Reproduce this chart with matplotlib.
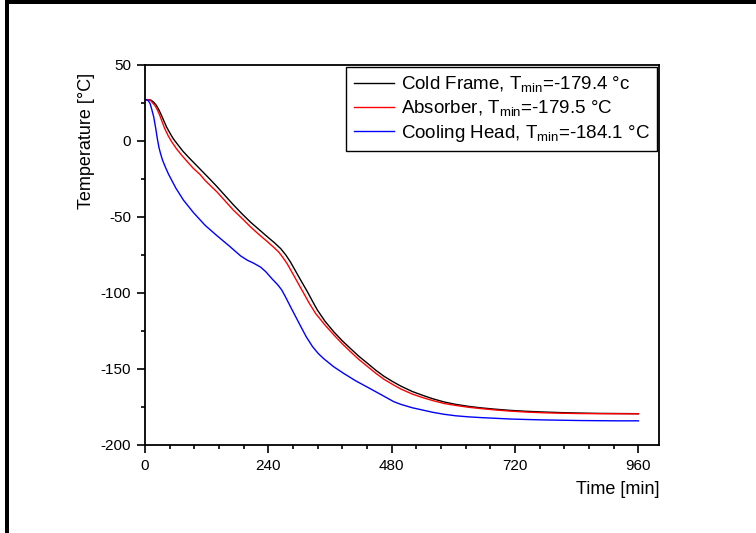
import matplotlib
matplotlib.use("Agg")
import matplotlib.pyplot as plt
from matplotlib.patches import Rectangle
from matplotlib.ticker import MultipleLocator

plt.rcParams['font.family'] = ['Liberation Sans', 'DejaVu Sans']
plt.rcParams['mathtext.fontset'] = 'custom'
plt.rcParams['mathtext.rm'] = 'Liberation Sans'
plt.rcParams['mathtext.it'] = 'Liberation Sans'
plt.rcParams['axes.unicode_minus'] = False

# ---- data ----
t_frame = [0, 8, 12, 17, 22, 27, 32, 37, 42, 48, 55, 64, 74, 87, 100, 113, 126, 140, 156, 172,
           189, 205, 221, 238, 252, 264, 274, 283, 292, 302, 316, 326, 335, 350, 368, 384, 400,
           416, 433, 449, 465, 482, 498, 520, 540, 560, 582, 605, 630, 655, 680, 710, 740, 775,
           810, 845, 880, 920, 960]
T_frame = [27.2, 27.2, 26.8, 25.5, 23.5, 20.5, 16.9, 13, 9.2, 5.5, 1.5, -2.5, -6.8, -11.5, -16,
           -20.5, -25, -30, -36, -42, -48, -53.3, -58, -63, -67, -70.8, -75, -79.6, -85, -91,
           -99.2, -105.5, -111, -118.5, -125.8, -131.5, -136.6, -141.6, -146.3, -150.8, -154.8,
           -158.3, -161.3, -164.8, -167.3, -169.6, -171.7, -173.3, -174.6, -175.6, -176.4, -177.2,
           -177.8, -178.3, -178.7, -179, -179.2, -179.3, -179.4]

t_abs = [0, 7, 11, 15, 19, 24, 28.7, 33.5, 38.5, 45, 51.5, 61, 71, 82, 94, 107, 117, 140, 156,
         172, 189, 205, 221, 238, 250, 260, 268, 277, 287, 296, 309, 320, 332, 350, 368, 384, 400,
         416, 433, 449, 465, 482, 498, 520, 540, 560, 582, 605, 630, 655, 680, 710, 740, 775, 810,
         845, 880, 960]
T_abs = [27.2, 27.2, 26.6, 25, 23.5, 20.5, 16.9, 12.5, 8.1, 3.5, -0.3, -5, -9.2, -13.5, -18, -22,
         -26, -33.5, -39.5, -45.5, -51, -56.4, -61.3, -66.2, -69.8, -73, -76.5, -81, -87, -92.5,
         -100.3, -107, -113.5, -121, -127.8, -133.5, -138.7, -143.7, -148.4, -152.8, -156.8,
         -160.2, -163.2, -166.5, -168.8, -170.8, -172.7, -174, -175.2, -176.1, -176.9, -177.7,
         -178.3, -178.8, -179.1, -179.3, -179.4, -179.5]

t_head = [0, 4, 7, 10, 13, 17, 21, 24, 27, 30, 34, 40, 46, 53, 60, 75, 94, 117, 140, 163, 186,
          199, 212, 225, 235, 248, 258, 266, 274, 283, 293, 303, 314, 326, 337, 348, 367, 387,
          410, 433, 460, 484, 498, 520, 540, 560, 582, 605, 630, 655, 680, 710, 740, 775, 810,
          845, 880, 920, 960]
T_head = [27.2, 27, 26.3, 24.5, 21, 15.8, 8, 1.5, -4, -8, -12.5, -17.5, -22, -26.5, -31, -39,
          -47, -55.5, -62.3, -68.8, -75.6, -78.4, -80.5, -83, -86, -91, -94.5, -98, -103, -109,
          -115.5, -122, -129, -135.3, -139.8, -143.3, -148.5, -153, -157.8, -162, -167, -171.5,
          -173.3, -175.5, -177, -178.5, -179.8, -180.8, -181.5, -182, -182.4, -182.9, -183.2,
          -183.5, -183.7, -183.9, -184, -184.1, -184.1]

labels = [r'Cold Frame, T$_{\mathrm{min}}$=-179.4 °c',
          r'Absorber, T$_{\mathrm{min}}$=-179.5 °C',
          r'Cooling Head, T$_{\mathrm{min}}$=-184.1 °C']
colors = ['#000000', '#ff0000', '#0000ff']

xticks = [0, 240, 480, 720, 960]
yticks = [50, 0, -50, -100, -150, -200]

# ---- figure ----
fig = plt.figure(figsize=(7.56, 5.33), dpi=100)
ax = fig.add_axes([145/756, 1 - 445/533, (659 - 145)/756, (445 - 65)/533])

for t, T, lab, c in zip([t_frame, t_abs, t_head], [T_frame, T_abs, T_head], labels, colors):
    ax.plot(t, T, color=c, lw=1.0, label=lab)

ax.set_xlim(0, 1000)
ax.set_ylim(-200, 50)
ax.set_xticks(xticks)
ax.set_yticks(yticks)
ax.xaxis.set_minor_locator(MultipleLocator(48))
ax.yaxis.set_minor_locator(MultipleLocator(25))
ax.tick_params(which='major', direction='out', length=6, width=1.2, labelsize=11, pad=4)
ax.tick_params(which='minor', direction='out', length=3, width=1.2)
ax.tick_params(top=False, right=False, which='both')
for s in ax.spines.values():
    s.set_linewidth(1.3)

ax.set_ylabel('Temperature [°C]', fontsize=13, loc='top')
ax.yaxis.set_label_coords(-0.098, 1 - 8/380)
ax.set_xlabel('Time [min]', fontsize=13, loc='right', labelpad=6)

leg = ax.legend(loc='upper right', bbox_to_anchor=(1, 1), borderaxespad=0.1,
                fontsize=13.5, fancybox=False, framealpha=1, edgecolor='black',
                handlelength=2.15, handletextpad=0.36, labelspacing=0.22, borderpad=0.4)
leg.get_frame().set_linewidth(1.0)

# outer frame (left and top)
fig.patches.append(Rectangle((5/756, 0), 4/756, 1, transform=fig.transFigure,
                             facecolor='black', edgecolor='none'))
fig.patches.append(Rectangle((5/756, 1 - 4/533), 1, 4/533, transform=fig.transFigure,
                             facecolor='black', edgecolor='none'))

fig.savefig('out.png', dpi=100)
